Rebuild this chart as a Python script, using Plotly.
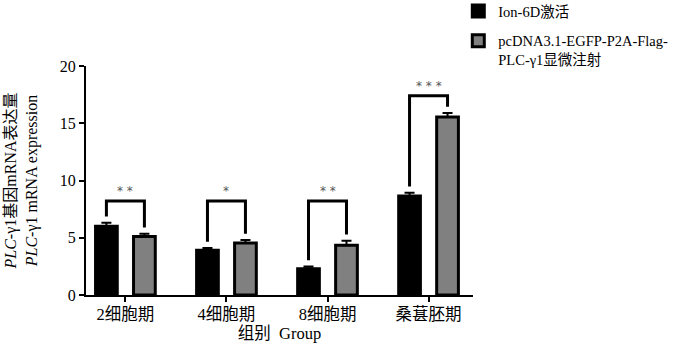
import plotly.graph_objects as go

categories = ["2细胞期", "4细胞期", "8细胞期", "桑葚胚期"]
series_names = ["Ion-6D激活", "pcDNA3.1-EGFP-P2A-Flag-<br>PLC-γ1显微注射"]
ion_values = [6.0, 3.9, 2.3, 8.65]
ion_err = [0.3, 0.2, 0.18, 0.27]
pc_values = [5.1, 4.55, 4.35, 15.55]
pc_err = [0.25, 0.25, 0.38, 0.35]
sig_labels = ["* *", "*", "* *", "* * *"]
bracket_tops = [8.2, 8.2, 8.2, 17.4]
y_ticks = [0, 5, 10, 15, 20]

FONT = "Liberation Serif, Times New Roman, Noto Sans CJK SC, serif"
xs = list(range(len(categories)))
half_gap = 0.188
bw = 0.215

fig = go.Figure()
fig.add_trace(go.Bar(
    x=xs, y=ion_values, name=series_names[0],
    width=bw, offset=-half_gap - bw / 2,
    marker=dict(color="black", line=dict(color="black", width=3)),
    error_y=dict(type="data", array=ion_err, arrayminus=[0]*4, color="black", thickness=2, width=5),
    legendgroup="a",
))
fig.add_trace(go.Bar(
    x=xs, y=pc_values, name=series_names[1],
    width=bw, offset=half_gap - bw / 2,
    marker=dict(color="#808080", line=dict(color="black", width=3)),
    error_y=dict(type="data", array=pc_err, arrayminus=[0]*4, color="black", thickness=2, width=5),
    legendgroup="b",
))

# significance brackets
gap = 0.55
for i in xs:
    l_bottom = ion_values[i] + ion_err[i] + gap
    r_bottom = pc_values[i] + pc_err[i] + gap
    top = bracket_tops[i]
    fig.add_trace(go.Scatter(
        x=[i - half_gap, i - half_gap, i + half_gap, i + half_gap],
        y=[l_bottom, top, top, r_bottom],
        mode="lines", line=dict(color="black", width=3),
        showlegend=False, hoverinfo="skip",
    ))
    fig.add_annotation(x=i, y=top, text=sig_labels[i], showarrow=False,
                       yanchor="bottom", yshift=1,
                       font=dict(family="DejaVu Sans", size=12, color="#555"))

fig.update_layout(
    width=700, height=347,
    margin=dict(l=86, r=227, t=66, b=52, autoexpand=False),
    plot_bgcolor="white", paper_bgcolor="white",
    barmode="overlay",
    font=dict(family=FONT, size=15, color="black"),
    legend=dict(x=0.962, y=1.31, xanchor="left", yanchor="top",
                font=dict(family=FONT, size=14.5), tracegroupgap=8,
                itemwidth=30, valign="top"),
    xaxis=dict(range=[-0.39, 3.44], tickvals=xs, ticktext=categories,
               showline=True, linecolor="black", linewidth=2,
               ticks="outside", ticklen=5, tickwidth=2, tickcolor="black",
               showgrid=False, zeroline=False, ticklabelstandoff=-2,
               title=dict(text="组别  Group", font=dict(family=FONT, size=16.5), standoff=2),
               tickfont=dict(family=FONT, size=16.5)),
    yaxis=dict(range=[0, 20], tickvals=y_ticks,
               showline=True, linecolor="black", linewidth=2,
               ticks="outside", ticklen=5, tickwidth=2, tickcolor="black",
               showgrid=False, zeroline=False,
               tickfont=dict(family=FONT, size=16),
               title=dict(text="<i>PLC</i>-γ1基因mRNA表达量<br><i>PLC</i>-γ1 mRNA expression",
                          font=dict(family=FONT, size=16), standoff=18)),
)

fig.write_html("out.html", config={"displayModeBar": False},
               post_script="document.body.style.margin='0';window.dispatchEvent(new Event('resize'));")
